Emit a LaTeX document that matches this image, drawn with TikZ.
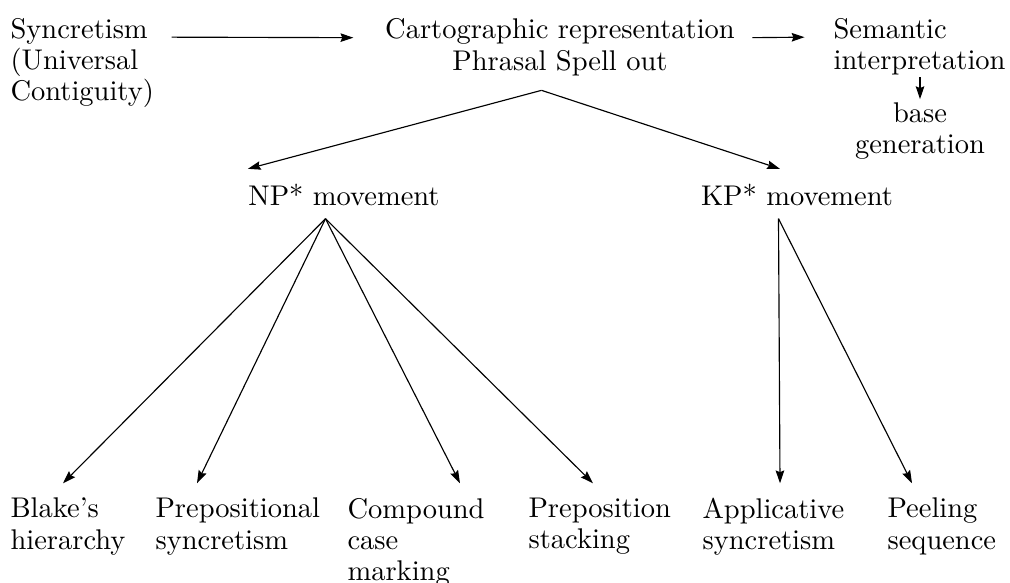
\documentclass[tikz,border=0pt]{standalone}
\usetikzlibrary{arrows.meta, positioning}
\tikzset{
  txt/.style={inner sep=0pt, align=left, font=\fontsize{10pt}{11pt}\selectfont},
  mid/.style={inner sep=0pt, align=center, font=\fontsize{10pt}{11pt}\selectfont},
  arr/.style={-{Stealth[length=4.5pt, width=3pt, inset=0.6pt]}, line width=0.4pt}
}
\begin{document}
\begin{tikzpicture}[x=0.351pt, y=-0.351pt]
\useasboundingbox (0,0) rectangle (1010,582);
% top row
\node [txt, anchor=north west] at (10,17.5) (syn) {Syncretism\\(Universal\\Contiguity)};
\node [mid, anchor=north] at (560,18) (carto) {Cartographic representation\\Phrasal Spell out};
\node [txt, anchor=north west] at (833,17.5) (sem) {Semantic\\interpretation};
\node [mid, anchor=north] at (920,102) (gen) {base\\generation};
% movements
\node [txt, anchor=base] at (344,205) (np) {NP* movement};
\node [txt, anchor=base] at (797,205) (kp) {KP* movement};
% leaves
\node [txt, anchor=north west] at (10,497.5) (blake) {Blake's\\hierarchy};
\node [txt, anchor=north west] at (155,497.5) (prep) {Prepositional\\syncretism};
\node [txt, anchor=north west] at (347,497.5) (comp) {Compound\\case\\marking};
\node [txt, anchor=north west] at (528,497.5) (stack) {Preposition\\stacking};
\node [txt, anchor=north west] at (702,497.5) (appl) {Applicative\\syncretism};
\node [txt, anchor=north west] at (887,497.5) (peel) {Peeling\\sequence};

\draw [arr] ([shift={(6pt,-6.9pt)}]syn.north east) -- ([shift={(-11pt,-6.9pt)}]carto.north west);
\draw [arr] ([shift={(6pt,-6.9pt)}]carto.north east) -- ([shift={(-10pt,-6.9pt)}]sem.north west);
\draw [arr] ([yshift=-0.5pt]sem.south -| gen.north) -- ([yshift=1pt]gen.north);
\draw [arr] ([shift={(-6.5pt,-5pt)}]carto.south) -- ([yshift=5pt]np.north west);
\draw [arr] ([shift={(-6.5pt,-5pt)}]carto.south) -- ([shift={(-6pt,5pt)}]kp.north);
\foreach \leaf/\dx in {blake/53, prep/42, comp/113, stack/65}
  \draw [arr] ([shift={(-6.5pt,-4.5pt)}]np.south) -- ([shift={(\dx,5pt)}]\leaf.north west);
\foreach \leaf/\dx in {appl/78, peel/25}
  \draw [arr] ([shift={(-6.5pt,-4.5pt)}]kp.south) -- ([shift={(\dx,5pt)}]\leaf.north west);
\end{tikzpicture}
\end{document}
